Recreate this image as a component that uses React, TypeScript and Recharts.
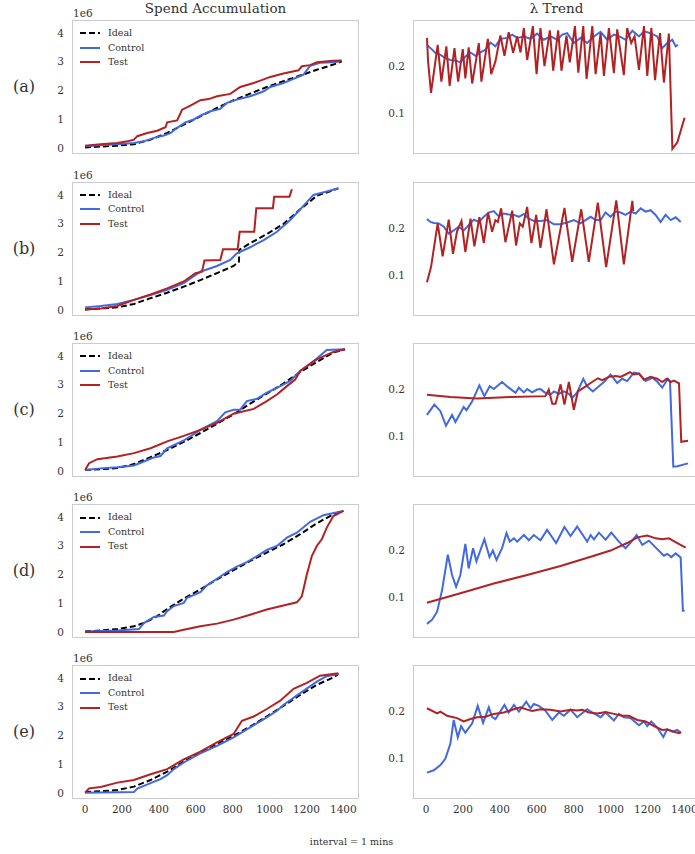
import React from 'react';
import { LineChart, Line, XAxis, YAxis, Legend } from 'recharts';

type Pt = [number, number];

// ---------- labels / ticks ----------
const X_TICKS = [0, 200, 400, 600, 800, 1000, 1200, 1400];
const SPEND_TICKS = [0, 1, 2, 3, 4];
const LAMBDA_TICKS = [0.1, 0.2];
const ROW_LABELS = ['(a)', '(b)', '(c)', '(d)', '(e)'];
const SPEND_TITLE = 'Spend Accumulation';
const LAMBDA_TITLE = 'λ Trend';
const SPEND_UNIT = '1e6';
const FOOTNOTE = 'interval = 1 mins';
const SERIES_NAMES = ['Ideal', 'Control', 'Test'];

// ---------- Spend accumulation (values in 1e6) ----------
const aSpendIdeal: Pt[] = [[0,0.02],[85,0.05],[175,0.08],[265,0.13],[355,0.29],[445,0.52],[535,0.81],[625,1.1],[715,1.39],[805,1.66],[895,1.89],[985,2.12],[1075,2.32],[1166,2.52],[1256,2.72],[1346,2.9],[1391,3.01]];
const aSpendControl: Pt[] = [[0,0.06],[85,0.09],[175,0.13],[265,0.17],[319,0.23],[373,0.35],[427,0.43],[463,0.52],[499,0.7],[544,0.89],[589,0.99],[625,1.12],[679,1.28],[733,1.36],[769,1.57],[823,1.68],[895,1.8],[968,1.97],[1004,2.12],[1075,2.26],[1130,2.4],[1184,2.55],[1220,2.86],[1274,2.96],[1346,2.98],[1382,3.01]];
const aSpendTest: Pt[] = [[0,0.08],[85,0.13],[175,0.17],[229,0.23],[265,0.29],[283,0.41],[337,0.52],[391,0.6],[436,0.72],[445,0.89],[499,0.96],[526,1.33],[571,1.47],[625,1.66],[670,1.7],[715,1.8],[787,1.88],[841,2.12],[914,2.26],[950,2.34],[1004,2.47],[1075,2.59],[1157,2.7],[1175,2.84],[1220,2.88],[1256,2.98],[1346,3.03],[1391,3.04]];

const bSpendIdeal: Pt[] = [[0,0.02],[85,0.05],[175,0.09],[265,0.21],[355,0.41],[445,0.6],[535,0.81],[625,1.04],[715,1.28],[805,1.53],[834,1.68],[836,2.09],[895,2.32],[985,2.64],[1075,2.99],[1166,3.5],[1256,3.97],[1373,4.23]];
const bSpendControl: Pt[] = [[0,0.09],[85,0.14],[175,0.21],[265,0.35],[355,0.52],[445,0.7],[535,0.93],[625,1.33],[715,1.53],[787,1.74],[823,1.97],[895,2.18],[968,2.43],[1040,2.72],[1112,3.13],[1166,3.5],[1238,4.0],[1310,4.12],[1373,4.23]];
const bSpendTest: Pt[] = [[0,0.02],[85,0.05],[175,0.14],[265,0.35],[355,0.54],[445,0.75],[535,0.99],[598,1.28],[634,1.33],[647,1.72],[733,1.74],[748,2.11],[827,2.11],[838,2.72],[917,2.72],[928,3.54],[1018,3.54],[1025,3.94],[1108,3.94],[1121,4.2]];

const cSpendIdeal: Pt[] = [[0,0.03],[85,0.06],[175,0.1],[265,0.24],[355,0.48],[445,0.73],[535,1.01],[625,1.32],[715,1.64],[805,1.97],[895,2.34],[985,2.69],[1075,3.04],[1166,3.44],[1256,3.79],[1346,4.12],[1409,4.23]];
const cSpendControl: Pt[] = [[0,0.03],[85,0.09],[175,0.13],[265,0.19],[319,0.33],[373,0.47],[409,0.52],[445,0.79],[535,1.06],[625,1.43],[715,1.73],[760,2.04],[805,2.13],[841,2.13],[877,2.43],[932,2.51],[985,2.72],[1040,2.89],[1112,3.13],[1166,3.48],[1256,3.91],[1310,4.21],[1409,4.23]];
const cSpendTest: Pt[] = [[0,0.03],[22,0.27],[67,0.41],[175,0.5],[265,0.62],[355,0.79],[445,1.03],[535,1.22],[625,1.43],[715,1.67],[805,1.99],[914,2.16],[985,2.43],[1040,2.66],[1094,2.95],[1139,3.18],[1166,3.48],[1256,3.88],[1346,4.14],[1409,4.23]];

const dSpendIdeal: Pt[] = [[0,0.02],[85,0.05],[175,0.1],[265,0.2],[319,0.31],[391,0.55],[445,0.8],[535,1.16],[625,1.48],[715,1.83],[805,2.15],[895,2.47],[985,2.76],[1075,3.05],[1166,3.4],[1256,3.78],[1346,4.09],[1400,4.21]];
const dSpendControl: Pt[] = [[0,0.02],[175,0.05],[292,0.1],[319,0.31],[373,0.52],[427,0.57],[445,0.72],[481,0.9],[535,1.01],[553,1.19],[625,1.38],[661,1.62],[715,1.85],[769,2.08],[823,2.27],[877,2.43],[932,2.64],[985,2.85],[1040,2.99],[1094,3.28],[1148,3.45],[1220,3.83],[1292,4.06],[1400,4.21]];
const dSpendTest: Pt[] = [[0,0],[481,0],[535,0.08],[625,0.2],[715,0.29],[805,0.43],[895,0.6],[985,0.78],[1075,0.92],[1148,1.03],[1175,1.24],[1202,2.0],[1229,2.64],[1256,2.99],[1283,3.22],[1310,3.63],[1346,4.03],[1400,4.21]];

const eSpendIdeal: Pt[] = [[0,0.03],[85,0.06],[175,0.1],[265,0.22],[355,0.45],[445,0.74],[535,1.09],[625,1.41],[715,1.71],[805,1.99],[895,2.31],[985,2.66],[1075,3.03],[1166,3.41],[1256,3.76],[1346,4.02],[1373,4.14]];
const eSpendControl: Pt[] = [[0,0.01],[265,0.03],[283,0.15],[355,0.34],[409,0.48],[445,0.62],[481,0.83],[535,1.06],[625,1.38],[715,1.64],[805,1.93],[895,2.28],[985,2.63],[1040,2.86],[1075,3.06],[1166,3.47],[1256,3.87],[1310,4.06],[1373,4.14]];
const eSpendTest: Pt[] = [[0,0.01],[22,0.16],[85,0.21],[175,0.36],[265,0.45],[355,0.65],[445,0.83],[535,1.17],[625,1.44],[715,1.76],[805,2.05],[850,2.51],[914,2.66],[985,2.92],[1058,3.21],[1130,3.62],[1202,3.83],[1274,4.08],[1373,4.16]];

// ---------- λ trend ----------
const aLambdaControl: Pt[] = [[5,0.246],[33,0.236],[51,0.229],[78,0.225],[105,0.218],[132,0.214],[159,0.213],[186,0.209],[213,0.221],[240,0.23],[268,0.223],[295,0.23],[322,0.236],[349,0.251],[376,0.243],[403,0.259],[439,0.261],[467,0.268],[494,0.261],[530,0.264],[566,0.259],[602,0.27],[638,0.257],[675,0.264],[711,0.257],[738,0.268],[765,0.271],[801,0.25],[837,0.261],[873,0.25],[910,0.264],[946,0.274],[982,0.257],[1018,0.268],[1054,0.263],[1081,0.257],[1118,0.276],[1154,0.264],[1181,0.275],[1217,0.271],[1253,0.264],[1280,0.239],[1307,0.25],[1335,0.257],[1353,0.243],[1365,0.246]];
const aLambdaTest: Pt[] = [[5,0.261],[11,0.211],[27,0.144],[63,0.246],[83,0.168],[110,0.243],[128,0.159],[154,0.239],[174,0.168],[199,0.237],[213,0.175],[231,0.241],[250,0.164],[286,0.25],[300,0.168],[335,0.259],[353,0.184],[376,0.211],[403,0.266],[425,0.223],[448,0.273],[472,0.229],[494,0.264],[512,0.23],[530,0.282],[548,0.214],[579,0.286],[599,0.184],[620,0.282],[642,0.201],[671,0.277],[689,0.191],[716,0.277],[734,0.191],[761,0.266],[779,0.209],[807,0.286],[825,0.187],[852,0.286],[870,0.174],[901,0.286],[919,0.184],[946,0.271],[964,0.18],[991,0.282],[1018,0.186],[1036,0.279],[1072,0.182],[1090,0.282],[1112,0.25],[1130,0.264],[1154,0.193],[1181,0.286],[1199,0.18],[1221,0.282],[1241,0.171],[1268,0.271],[1289,0.166],[1316,0.27],[1335,0.025],[1362,0.039],[1401,0.091]];

const bLambdaControl: Pt[] = [[5,0.22],[24,0.214],[42,0.212],[69,0.211],[96,0.204],[123,0.189],[150,0.196],[177,0.204],[204,0.196],[231,0.207],[259,0.219],[286,0.214],[313,0.225],[340,0.234],[367,0.237],[394,0.226],[421,0.232],[448,0.23],[476,0.229],[503,0.225],[530,0.231],[557,0.221],[584,0.216],[620,0.216],[656,0.218],[693,0.209],[729,0.209],[765,0.213],[801,0.218],[837,0.211],[864,0.218],[892,0.225],[919,0.218],[946,0.218],[973,0.234],[1000,0.225],[1027,0.236],[1054,0.234],[1081,0.229],[1109,0.236],[1136,0.232],[1163,0.243],[1190,0.236],[1217,0.239],[1244,0.229],[1271,0.214],[1298,0.229],[1326,0.218],[1353,0.224],[1380,0.214]];
const bLambdaTest: Pt[] = [[5,0.086],[27,0.118],[63,0.211],[90,0.141],[123,0.219],[146,0.146],[168,0.194],[192,0.216],[213,0.15],[241,0.221],[262,0.162],[289,0.224],[313,0.169],[336,0.234],[358,0.193],[376,0.218],[389,0.214],[407,0.243],[430,0.171],[467,0.238],[488,0.164],[508,0.211],[524,0.204],[548,0.246],[571,0.169],[597,0.229],[620,0.159],[653,0.241],[693,0.124],[750,0.244],[792,0.129],[841,0.241],[882,0.129],[931,0.255],[976,0.118],[1031,0.26],[1072,0.124],[1118,0.259],[1123,0.237]];

const cLambdaControl: Pt[] = [[5,0.146],[45,0.168],[78,0.154],[108,0.123],[141,0.146],[159,0.131],[204,0.163],[219,0.156],[250,0.175],[289,0.209],[316,0.186],[345,0.207],[367,0.201],[412,0.216],[448,0.204],[485,0.193],[503,0.204],[530,0.194],[548,0.201],[575,0.194],[602,0.2],[620,0.201],[647,0.193],[674,0.189],[693,0.196],[720,0.191],[747,0.196],[774,0.191],[792,0.182],[819,0.194],[852,0.223],[873,0.207],[904,0.196],[937,0.207],[964,0.216],[1000,0.232],[1036,0.214],[1063,0.223],[1090,0.218],[1127,0.236],[1154,0.234],[1190,0.218],[1226,0.225],[1250,0.218],[1280,0.204],[1311,0.223],[1322,0.218],[1340,0.036],[1362,0.037],[1420,0.043]];
const cLambdaTest: Pt[] = [[5,0.189],[132,0.184],[277,0.181],[458,0.184],[647,0.186],[665,0.2],[684,0.17],[702,0.17],[729,0.211],[750,0.168],[774,0.216],[801,0.157],[823,0.196],[855,0.204],[892,0.214],[931,0.224],[955,0.22],[991,0.227],[1027,0.229],[1054,0.227],[1081,0.232],[1105,0.237],[1127,0.232],[1154,0.234],[1181,0.221],[1217,0.227],[1253,0.223],[1280,0.216],[1304,0.223],[1326,0.216],[1344,0.219],[1371,0.213],[1383,0.089],[1420,0.091]];

const dLambdaControl: Pt[] = [[5,0.044],[33,0.053],[60,0.07],[87,0.116],[118,0.191],[141,0.148],[163,0.123],[186,0.148],[213,0.214],[231,0.162],[255,0.205],[273,0.177],[316,0.224],[344,0.186],[362,0.2],[382,0.18],[412,0.205],[436,0.237],[454,0.219],[476,0.226],[494,0.219],[530,0.233],[557,0.222],[584,0.233],[620,0.222],[656,0.244],[705,0.216],[750,0.25],[783,0.231],[819,0.251],[873,0.219],[892,0.233],[910,0.224],[937,0.238],[973,0.223],[1004,0.238],[1045,0.219],[1081,0.205],[1109,0.217],[1141,0.233],[1172,0.212],[1208,0.221],[1253,0.203],[1289,0.189],[1307,0.193],[1329,0.186],[1353,0.194],[1380,0.185],[1392,0.072],[1401,0.072]];
const dLambdaTest: Pt[] = [[5,0.089],[186,0.109],[367,0.13],[548,0.148],[729,0.167],[910,0.189],[1000,0.2],[1090,0.216],[1145,0.228],[1199,0.232],[1244,0.226],[1280,0.224],[1316,0.226],[1362,0.216],[1407,0.206]];

const eLambdaControl: Pt[] = [[5,0.07],[42,0.075],[78,0.086],[105,0.1],[132,0.132],[150,0.182],[172,0.145],[190,0.169],[213,0.155],[250,0.175],[280,0.212],[309,0.176],[340,0.209],[358,0.188],[376,0.184],[425,0.214],[448,0.198],[476,0.214],[503,0.2],[543,0.221],[566,0.207],[584,0.216],[611,0.212],[647,0.202],[684,0.182],[720,0.198],[747,0.191],[783,0.204],[819,0.188],[873,0.205],[901,0.198],[946,0.188],[973,0.198],[1018,0.181],[1045,0.195],[1072,0.188],[1109,0.186],[1154,0.171],[1181,0.179],[1199,0.169],[1221,0.179],[1253,0.166],[1286,0.146],[1307,0.162],[1335,0.157],[1362,0.161],[1380,0.155]];
const eLambdaTest: Pt[] = [[5,0.207],[60,0.196],[78,0.2],[114,0.191],[168,0.186],[204,0.179],[241,0.184],[277,0.188],[322,0.189],[367,0.195],[421,0.198],[476,0.205],[512,0.209],[548,0.204],[575,0.201],[620,0.205],[674,0.204],[729,0.2],[783,0.204],[819,0.202],[846,0.204],[882,0.198],[928,0.196],[973,0.199],[1018,0.195],[1063,0.191],[1099,0.191],[1145,0.182],[1190,0.179],[1235,0.169],[1280,0.161],[1307,0.162],[1344,0.157],[1371,0.154],[1383,0.156]];

// ---------- grouping ----------
const SPEND_ROWS: Pt[][][] = [
  [aSpendIdeal, aSpendControl, aSpendTest],
  [bSpendIdeal, bSpendControl, bSpendTest],
  [cSpendIdeal, cSpendControl, cSpendTest],
  [dSpendIdeal, dSpendControl, dSpendTest],
  [eSpendIdeal, eSpendControl, eSpendTest],
];
const LAMBDA_ROWS: Pt[][][] = [
  [aLambdaControl, aLambdaTest],
  [bLambdaControl, bLambdaTest],
  [cLambdaControl, cLambdaTest],
  [dLambdaControl, dLambdaTest],
  [eLambdaControl, eLambdaTest],
];

// ---------- styling / layout ----------
const SERIF = '"DejaVu Serif", serif';
const TEXT = '#333333';
const COLORS: Record<string, string> = { Ideal: '#000000', Control: '#4169e1', Test: '#b22222' };
const DASH: Record<string, string | undefined> = { Ideal: '6 3', Control: undefined, Test: undefined };
const X_DOMAIN: [number, number] = [-70.7, 1484.7];
const SPEND_DOMAIN: [number, number] = [-0.21, 4.45];
const LAMBDA_DOMAIN: [number, number] = [0.014, 0.299];
const ROW_TOPS = [20, 181.7, 343.2, 504.3, 665.3];
const PLOT_H = 134;
const PLOT_W = 287;
const LEFT_X = 72;
const RIGHT_X = 413;
const YW = 50;
const M = 2;
const XH = 26;
const LW = 2;

const toObjs = (arr: Pt[]) => arr.map(([x, y]) => ({ x, y }));
const tickStyle = { fontFamily: SERIF, fontSize: 10.5, fill: TEXT };

const LegendBox = () => (
  <div style={{ fontFamily: SERIF, fontSize: 9.5, color: TEXT, lineHeight: '14.5px' }}>
    {SERIES_NAMES.map((n) => (
      <div key={n} style={{ display: 'flex', alignItems: 'center', height: 14.5 }}>
        <svg width={20} height={4} style={{ display: 'block' }}>
          <line x1={0} y1={2} x2={20} y2={2} stroke={COLORS[n]} strokeWidth={LW} strokeDasharray={DASH[n]} />
        </svg>
        <span style={{ marginLeft: 8 }}>{n}</span>
      </div>
    ))}
  </div>
);

function Panel({ kind, series, names, top, showX }: { kind: 'spend' | 'lambda'; series: Pt[][]; names: string[]; top: number; showX: boolean }) {
  const left = (kind === 'spend' ? LEFT_X : RIGHT_X) - YW;
  const h = PLOT_H + 2 * M + (showX ? XH : 0);
  return (
    <div style={{ position: 'absolute', left, top: top - M }}>
      <LineChart width={YW + PLOT_W + M} height={h} margin={{ top: M, right: M, bottom: M, left: 0 }}>
        <XAxis
          type="number"
          dataKey="x"
          domain={X_DOMAIN}
          ticks={X_TICKS}
          hide={!showX}
          height={XH}
          axisLine={false}
          tickLine={false}
          tickSize={0}
          tickMargin={7}
          interval={0}
          tick={tickStyle}
          allowDataOverflow
        />
        <YAxis
          type="number"
          domain={kind === 'spend' ? SPEND_DOMAIN : LAMBDA_DOMAIN}
          ticks={kind === 'spend' ? SPEND_TICKS : LAMBDA_TICKS}
          width={YW}
          axisLine={false}
          tickLine={false}
          tickSize={0}
          tickMargin={8}
          interval={0}
          tick={tickStyle}
          allowDataOverflow
        />
        {kind === 'spend' && (
          <Legend
            layout="vertical"
            align="center"
            verticalAlign="middle"
            wrapperStyle={{ left: YW + 8, top: M + 6, width: 'auto', height: 'auto' }}
            content={() => <LegendBox />}
          />
        )}
        {series.map((arr, i) => (
          <Line
            key={names[i]}
            name={names[i]}
            data={toObjs(arr)}
            dataKey="y"
            type="linear"
            stroke={COLORS[names[i]]}
            strokeWidth={LW}
            strokeDasharray={DASH[names[i]]}
            dot={false}
            activeDot={false}
            isAnimationActive={false}
          />
        ))}
      </LineChart>
      <div
        style={{
          position: 'absolute',
          left: YW,
          top: M,
          width: PLOT_W,
          height: PLOT_H,
          boxSizing: 'border-box',
          border: '1.3px solid #cccccc',
          pointerEvents: 'none',
        }}
      />
    </div>
  );
}

export default function App() {
  const abs = (style: React.CSSProperties): React.CSSProperties => ({ position: 'absolute', fontFamily: SERIF, color: TEXT, whiteSpace: 'nowrap', ...style });
  return (
    <div style={{ position: 'absolute', left: 0, top: 0, width: 695, height: 854, overflow: 'hidden', background: '#ffffff' }}>
      <div style={abs({ left: LEFT_X + PLOT_W / 2, top: 0, fontSize: 13.5, lineHeight: '16px', transform: 'translateX(-50%)' })}>{SPEND_TITLE}</div>
      <div style={abs({ left: RIGHT_X + PLOT_W / 2, top: 0, fontSize: 13.5, lineHeight: '16px', transform: 'translateX(-50%)' })}>{LAMBDA_TITLE}</div>
      {ROW_TOPS.map((t, r) => (
        <React.Fragment key={r}>
          <Panel kind="spend" series={SPEND_ROWS[r]} names={SERIES_NAMES} top={t} showX={r === ROW_TOPS.length - 1} />
          <Panel kind="lambda" series={LAMBDA_ROWS[r]} names={['Control', 'Test']} top={t} showX={r === ROW_TOPS.length - 1} />
          <div style={abs({ left: LEFT_X + 1, top: t - 13, fontSize: 10.5, lineHeight: '12px' })}>{SPEND_UNIT}</div>
          <div style={abs({ left: 24, top: t + PLOT_H / 2 - 10, fontSize: 16, lineHeight: '20px', transform: 'translateX(-50%)' })}>{ROW_LABELS[r]}</div>
        </React.Fragment>
      ))}
      <div style={abs({ left: 351.5, top: 836, fontSize: 9.5, lineHeight: '12px', transform: 'translateX(-50%)' })}>{FOOTNOTE}</div>
    </div>
  );
}
